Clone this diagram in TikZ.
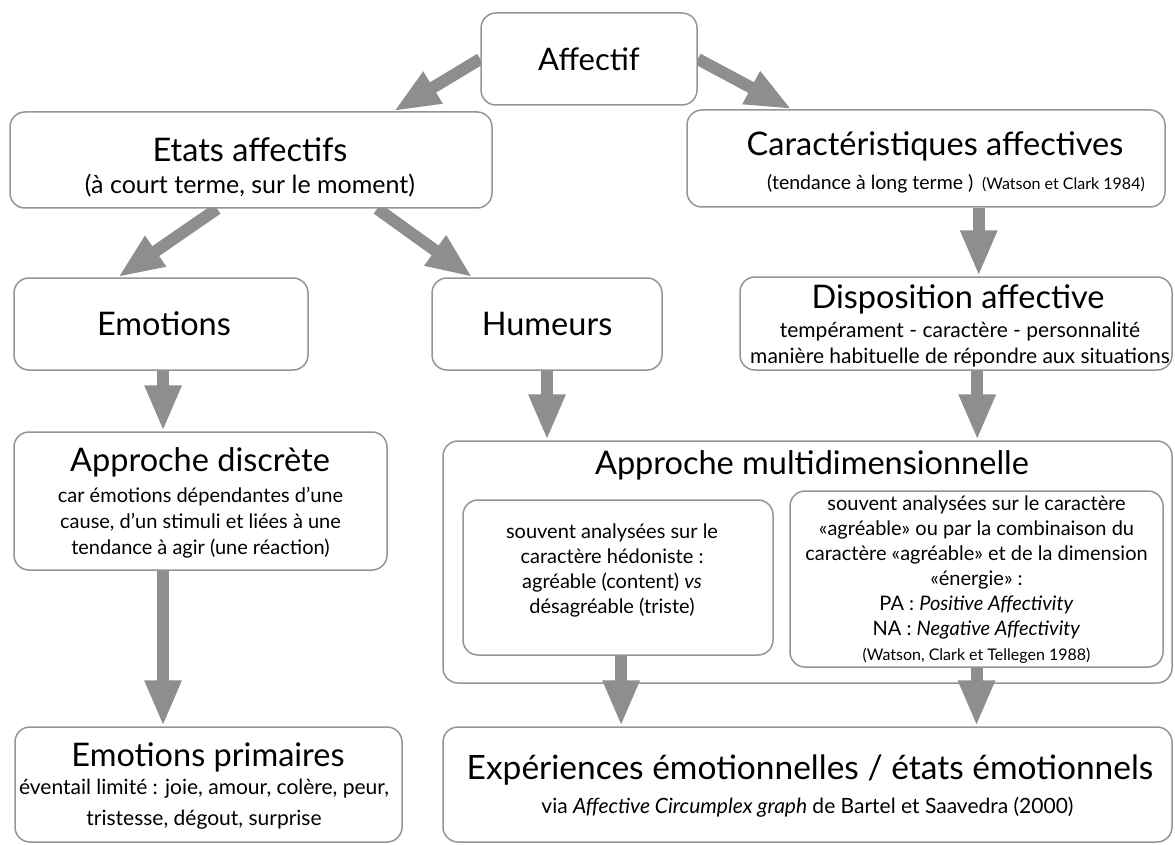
\documentclass[tikz,border=0pt]{standalone}
\usepackage{fontspec}
\setmainfont{Lato}
\usetikzlibrary{arrows.meta,calc,backgrounds}
\definecolor{boxgray}{HTML}{959595}
\definecolor{arrgray}{HTML}{8E8E8E}
\newcommand{\myttl}{\fontsize{32.5}{38}\selectfont}
\newcommand{\mysbt}{\fontsize{21}{26}\selectfont}
\newcommand{\mybdy}{\fontsize{20}{25}\selectfont}
\newcommand{\mysmt}{\fontsize{16}{20}\selectfont}
\begin{document}
\begin{tikzpicture}[x=1pt,y=-1pt,
  box/.style={draw=boxgray, line width=1.5pt, rounded corners=15pt, fill=white, inner sep=0pt},
  arr/.style={draw=arrgray, line width=12pt, -{Triangle[length=46pt,width=34pt]}},
  ttl/.style={font=\myttl, inner sep=0pt},
  sbt/.style={font=\mysbt, inner sep=0pt, align=center},
  bdy/.style={font=\mybdy, inner sep=0pt, align=center}]
\useasboundingbox (0,0) rectangle (1175,845);

% boxes
\node[box, minimum width=216pt, minimum height=92pt] (aff) at (589,59) {};
\node[box, minimum width=482pt, minimum height=96pt] (etats) at (251,160) {};
\node[box, minimum width=478pt, minimum height=97pt] (carac) at (926,158.5) {};
\node[box, minimum width=294pt, minimum height=92pt] (emo) at (161,324) {};
\node[box, minimum width=230pt, minimum height=92pt] (hum) at (547,324) {};
\node[box, minimum width=432pt, minimum height=93pt] (dispo) at (956,323.5) {};
\node[box, minimum width=373pt, minimum height=138pt] (disc) at (200.5,501) {};
\node[box, minimum width=729pt, minimum height=242pt] (multi) at (807.5,562) {};
\node[box, minimum width=310pt, minimum height=155pt] (il) at (618,577.5) {};
\node[box, minimum width=373pt, minimum height=176pt] (ir) at (976.5,579) {};
\node[box, minimum width=387pt, minimum height=115pt] (prim) at (208.5,784.5) {};
\node[box, minimum width=729pt, minimum height=115pt] (exp) at (807.5,784.5) {};

% texts
\node[ttl, font=\fontsize{31}{36}\selectfont] (taff) at (589,59) {Affectif};
\node[ttl] (tetats) at (250,150) {Etats affectifs};
\node[sbt, font=\fontsize{25}{30}\selectfont] (setats) at (250,186) {(à court terme, sur le moment)};
\node[ttl] (tcarac) at (935,146) {Caractéristiques affectives};
\node[sbt] (scarac) at (956,184) {{\fontsize{19.5}{24}\selectfont(tendance à long terme )}\, {\mysmt(Watson et Clark 1984)}};
\node[ttl] (temo) at (164,324) {Emotions};
\node[ttl] (thum) at (547,324) {Humeurs};
\node[ttl] (tdispo) at (958,299) {Disposition affective};
\node[sbt] (sdispo) at (960,345) {tempérament - caractère - personnalité\\manière habituelle de répondre aux situations};
\node[ttl] (tdisc) at (200,462) {Approche discrète};
\node[bdy, font=\fontsize{20}{26}\selectfont] (sdisc) at (200.5,523) {car émotions dépendantes d’une\\cause, d’un stimuli et liées à une\\tendance à agir (une réaction)};
\node[ttl] (tmulti) at (812,465) {Approche multidimensionnelle};
\node[bdy] (sil) at (612,570.5) {souvent analysées sur le\\caractère hédoniste :\\agréable (content) \textit{vs}\\désagréable (triste)};
\node[bdy] (sir) at (976.5,580) {souvent analysées sur le caractère\\«agréable» ou par la combinaison du\\caractère «agréable» et de la dimension\\«énergie» :\\PA : \textit{Positive Affectivity}\\NA : \textit{Negative Affectivity}\\{\mysmt(Watson, Clark et Tellegen 1988)}};
\node[ttl] (tprim) at (208,757) {Emotions primaires};
\node[sbt, font=\fontsize{21}{31}\selectfont] (sprim) at (204,804) {éventail limité : joie, amour, colère, peur,\\tristesse, dégout, surprise};
\node[ttl, font=\fontsize{33.5}{40}\selectfont] (texp) at (810,770) {Expériences émotionnelles / états émotionnels};
\node[bdy, font=\fontsize{21}{26}\selectfont] (sexp) at (807.5,807) {via \textit{Affective Circumplex graph} de Bartel et Saavedra (2000)};

% connectors
\coordinate (e1) at ($(etats.north west)!0.795!(etats.north east)$);
\coordinate (e2) at ($(carac.north west)!0.22!(carac.north east)$);
\coordinate (s3) at ($(etats.south west)!0.43!(etats.south east)$);
\coordinate (e3) at ($(emo.north west)!0.354!(emo.north east)$);
\coordinate (s4) at ($(etats.south west)!0.761!(etats.south east)$);
\coordinate (e4) at ($(hum.north west)!0.178!(hum.north east)$);
\coordinate (s5) at ($(carac.south west)!0.61!(carac.south east)$);
\coordinate (s6) at ($(emo.south west)!0.507!(emo.south east)$);
\coordinate (s7) at (hum.south);
\coordinate (s8) at ($(dispo.south west)!0.549!(dispo.south east)$);
\coordinate (s9) at ($(disc.south west)!0.4!(disc.south east)$);
\coordinate (s10) at ($(il.south west)!0.51!(il.south east)$);
\coordinate (s11) at ($(ir.south west)!0.5!(ir.south east)$);

\begin{scope}[on background layer]
\draw[arr] (aff.west) -- (e1);
\draw[arr] (aff.east) -- (e2);
\draw[arr] (s3) -- (e3);
\draw[arr] (s4) -- (e4);
\end{scope}
\draw[arr] (s5) -- (s5 |- dispo.north);
\draw[arr] (s6) -- (s6 |- disc.north);
\draw[arr] (s7) -- (s7 |- multi.north);
\draw[arr] (s8) -- (s8 |- multi.north);
\draw[arr] (s9) -- (s9 |- prim.north);
\draw[arr] (s10) -- (s10 |- exp.north);
\draw[arr] (s11) -- (s11 |- exp.north);
\end{tikzpicture}
\end{document}
